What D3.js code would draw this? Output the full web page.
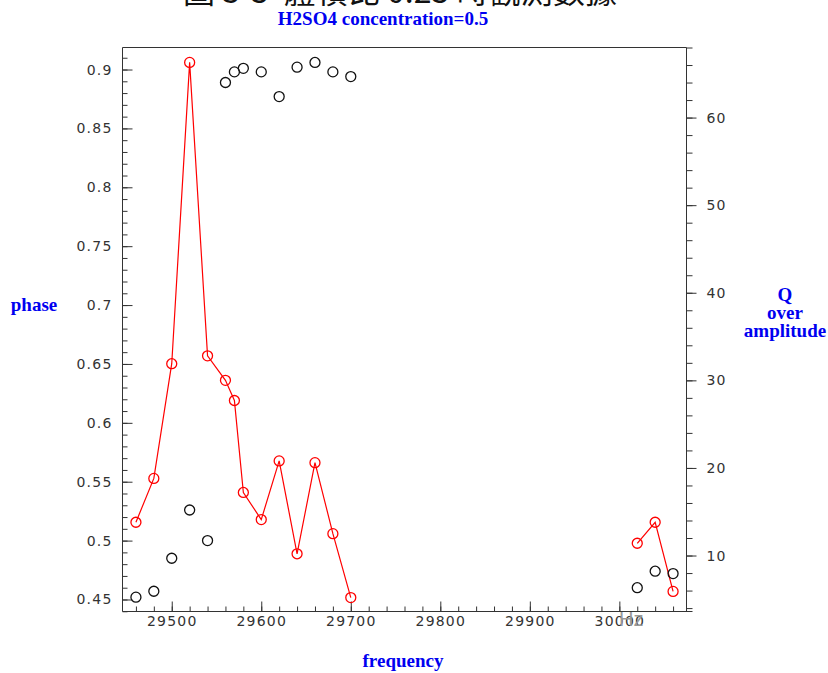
<!DOCTYPE html>
<html>
<head>
<meta charset="utf-8">
<script src="https://cdn.jsdelivr.net/npm/d3@7"></script>
<style>
body { margin: 0; background: #fff; }
.tick text { font-family: "DejaVu Sans", sans-serif; font-size: 14px; fill: #333; letter-spacing: 1.2px; }
.lbl { font-family: "Liberation Serif", serif; font-weight: bold; font-size: 19px; fill: #0000f0; }
</style>
</head>
<body>
<svg id="chart" width="828" height="673"></svg>
<script>
// frequency (Hz) of each measurement
var freq = [29460, 29480, 29500, 29520, 29540, 29560, 29570, 29580, 29600,
            29620, 29640, 29660, 29680, 29700, 30020, 30040, 30060];
// phase, left axis (black circles)
var phase = [0.452, 0.457, 0.485, 0.526, 0.500, 0.889, 0.898, 0.901, 0.898,
             0.877, 0.902, 0.906, 0.898, 0.894, 0.460, 0.474, 0.472];
// Q over amplitude, right axis (red circles + line)
var qAmp = [13.8, 18.8, 31.9, 66.3, 32.8, 30.0, 27.7, 17.2, 14.1,
            20.8, 10.2, 20.6, 12.5, 5.2, 11.4, 13.8, 5.9];

var xTicks = [29500, 29600, 29700, 29800, 29900, 30000];
var phaseTicks = [0.45, 0.5, 0.55, 0.6, 0.65, 0.7, 0.75, 0.8, 0.85, 0.9];
var qTicks = [10, 20, 30, 40, 50, 60];

var title = "圖 3-5  體積比 0.25 時觀測數據";
var subtitle = "H2SO4 concentration=0.5";

var m = { left: 122.5, right: 686.5, top: 47.5, bottom: 611.5 };

var svg = d3.select("#chart");

var x = d3.scaleLinear().domain([29445, 30075]).range([m.left, m.right]);
var yP = d3.scaleLinear().domain([0.4398, 0.9187]).range([m.bottom, m.top]);
var yQ = d3.scaleLinear().domain([3.61, 68.0]).range([m.bottom, m.top]);

var xMinor = d3.range(29460, 30075, 20);
var pMinor = d3.range(44, 92).map(function(d) { return d / 100; });
var qMinor = d3.range(4, 69, 2);

// frame
svg.append("line").attr("x1", m.left).attr("x2", m.right).attr("y1", m.top).attr("y2", m.top)
    .attr("stroke", "#333");
svg.append("line").attr("x1", m.left).attr("x2", m.right + 6).attr("y1", m.bottom).attr("y2", m.bottom)
    .attr("stroke", "#333");
svg.append("line").attr("x1", m.left).attr("x2", m.left).attr("y1", m.top).attr("y2", m.bottom)
    .attr("stroke", "#333");
svg.append("line").attr("x1", m.right).attr("x2", m.right).attr("y1", m.top).attr("y2", m.bottom)
    .attr("stroke", "#333");

function styleAxis(g) {
    g.select(".domain").remove();
    g.selectAll(".tick line").attr("stroke", "#333");
}

// bottom axis, ticks inward
svg.append("g").attr("transform", "translate(0," + m.bottom + ")")
    .call(d3.axisBottom(x).tickValues(xMinor).tickSize(-5).tickFormat(""))
    .call(styleAxis);
svg.append("g").attr("transform", "translate(0," + m.bottom + ")")
    .call(d3.axisBottom(x).tickValues(xTicks).tickSize(-10).tickPadding(5).tickFormat(d3.format("d")))
    .call(styleAxis);

// left axis, ticks inward
svg.append("g").attr("transform", "translate(" + m.left + ",0)")
    .call(d3.axisLeft(yP).tickValues(pMinor).tickSize(-5).tickFormat(""))
    .call(styleAxis);
svg.append("g").attr("transform", "translate(" + m.left + ",0)")
    .call(d3.axisLeft(yP).tickValues(phaseTicks).tickSize(-10).tickPadding(10).tickFormat(d3.format("")))
    .call(styleAxis);

// right axis, ticks outward
svg.append("g").attr("transform", "translate(" + m.right + ",0)")
    .call(d3.axisRight(yQ).tickValues(qMinor).tickSize(6).tickFormat(""))
    .call(styleAxis);
svg.append("g").attr("transform", "translate(" + m.right + ",0)")
    .call(d3.axisRight(yQ).tickValues(qTicks).tickSize(10).tickPadding(10).tickFormat(d3.format("d")))
    .call(styleAxis);

// data
var rows = freq.map(function(f, i) { return { f: f, p: phase[i], q: qAmp[i] }; });

// split the red line where the frequency sweep jumps
var segments = [[]];
rows.forEach(function(d, i) {
    if (i > 0 && d.f - rows[i - 1].f > 100) segments.push([]);
    segments[segments.length - 1].push(d);
});

var line = d3.line()
    .x(function(d) { return x(d.f); })
    .y(function(d) { return yQ(d.q); });

svg.selectAll(".qline").data(segments).enter().append("path")
    .attr("class", "qline")
    .attr("d", line)
    .attr("fill", "none")
    .attr("stroke", "#ff0000")
    .attr("stroke-width", 1.2);

svg.selectAll(".qdot").data(rows).enter().append("circle")
    .attr("class", "qdot")
    .attr("cx", function(d) { return x(d.f); })
    .attr("cy", function(d) { return yQ(d.q); })
    .attr("r", 5)
    .attr("fill", "none")
    .attr("stroke", "#ff0000")
    .attr("stroke-width", 1.3);

svg.selectAll(".pdot").data(rows).enter().append("circle")
    .attr("class", "pdot")
    .attr("cx", function(d) { return x(d.f); })
    .attr("cy", function(d) { return yP(d.p); })
    .attr("r", 5)
    .attr("fill", "none")
    .attr("stroke", "#111")
    .attr("stroke-width", 1.3);

// texts
svg.append("text")
    .attr("x", 183).attr("y", 3)
    .attr("textLength", 434)
    .style("font-family", "'Noto Sans CJK TC', sans-serif")
    .style("font-size", "32px")
    .style("fill", "#111")
    .style("white-space", "pre")
    .text(title);

svg.append("text").attr("class", "lbl")
    .attr("x", 383).attr("y", 25).attr("text-anchor", "middle")
    .text(subtitle);

svg.append("text").attr("class", "lbl")
    .attr("x", 34).attr("y", 311).attr("text-anchor", "middle")
    .text("phase");

svg.append("text").attr("class", "lbl")
    .attr("x", 403).attr("y", 667).attr("text-anchor", "middle")
    .text("frequency");

["Q", "over", "amplitude"].forEach(function(t, i) {
    svg.append("text").attr("class", "lbl")
        .attr("x", 785).attr("y", 301 + i * 18).attr("text-anchor", "middle")
        .text(t);
});

svg.append("text")
    .attr("x", 619).attr("y", 626)
    .style("font-family", "'Liberation Sans', sans-serif")
    .style("font-size", "20px")
    .style("fill", "#999")
    .text("Hz");
</script>
</body>
</html>
